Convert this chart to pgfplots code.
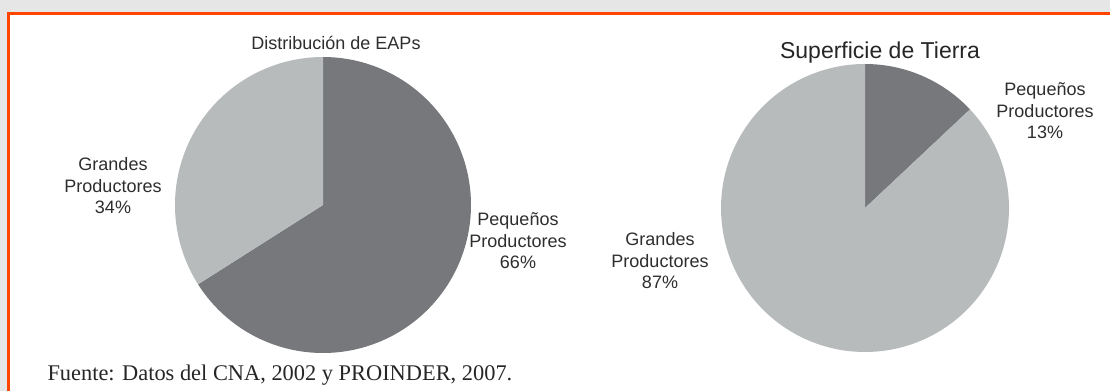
\documentclass[border=0pt]{standalone}
\usepackage{pgfplots}
\pgfplotsset{compat=1.18}
\usepackage{fontspec}
\setmainfont{Liberation Sans}
\newfontfamily\seriffont{Liberation Serif}
\definecolor{pdark}{HTML}{77787B}
\definecolor{plight}{HTML}{B8BBBC}
\definecolor{frameor}{HTML}{FF4500}
\definecolor{bggray}{HTML}{E6E6E6}
\definecolor{txt}{HTML}{2E2E2E}
\begin{document}
\begin{tikzpicture}[x=1bp,y=1bp]
% background and frame
\fill[bggray] (0,0) rectangle (1110,391);
\fill[white] (7,0) rectangle (1110,379);
\fill[frameor] (7,376) rectangle (1110,379);
\fill[frameor] (7,0) rectangle (10,379);

% Pie 1: Distribucion de EAPs (Pequenos 66, Grandes 34)
\begin{axis}[at={(323bp,186bp)}, anchor=center, width=296bp, height=296bp,
  scale only axis, hide axis, xmin=-1, xmax=1, ymin=-1, ymax=1, clip=false]
  \addplot[draw=none, fill=pdark, domain={90-3.6*66}:90, samples=150] ({cos(x)},{sin(x)}) -- (0,0) -- cycle;
  \addplot[draw=none, fill=plight, domain={90-3.6*(66+34)}:{90-3.6*66}, samples=100] ({cos(x)},{sin(x)}) -- (0,0) -- cycle;
\end{axis}

% Pie 2: Superficie de Tierra (Pequenos 13, Grandes 87)
\begin{axis}[at={(865bp,183bp)}, anchor=center, width=288bp, height=288bp,
  scale only axis, hide axis, xmin=-1, xmax=1, ymin=-1, ymax=1, clip=false]
  \addplot[draw=none, fill=pdark, domain={90-3.6*13}:90, samples=60] ({cos(x)},{sin(x)}) -- (0,0) -- cycle;
  \addplot[draw=none, fill=plight, domain={90-3.6*(13+87)}:{90-3.6*13}, samples=200] ({cos(x)},{sin(x)}) -- (0,0) -- cycle;
\end{axis}

% titles
\node[txt, font=\fontsize{18bp}{21bp}\selectfont] at (336,348) {Distribución de EAPs};
\node[black!85, font=\fontsize{23bp}{27bp}\selectfont] at (880,338) {Superficie de Tierra};

% labels
\node[txt, align=center, font=\fontsize{18bp}{21.5bp}\selectfont] at (113,205) {Grandes\\Productores\\34\%};
\node[txt, align=center, font=\fontsize{18bp}{21.5bp}\selectfont] at (518,150) {Pequeños\\Productores\\66\%};
\node[txt, align=center, font=\fontsize{18bp}{21.5bp}\selectfont] at (1045,280) {Pequeños\\Productores\\13\%};
\node[txt, align=center, font=\fontsize{18bp}{21.5bp}\selectfont] at (660,130) {Grandes\\Productores\\87\%};

% source
\node[black!85, anchor=west, font=\seriffont\fontsize{22.4bp}{26bp}\selectfont] at (44,16) {Fuente: Datos del CNA, 2002 y PROINDER, 2007.};
\end{tikzpicture}
\end{document}
